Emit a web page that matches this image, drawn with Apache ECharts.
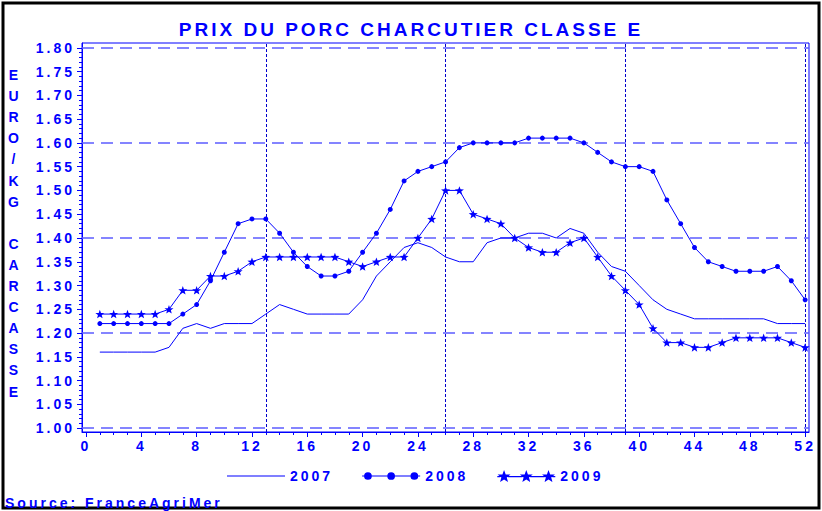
<!DOCTYPE html>
<html>
<head>
<meta charset="utf-8">
<script src="https://cdn.jsdelivr.net/npm/echarts@6/dist/echarts.min.js"></script>
<style>
  html, body { margin: 0; padding: 0; background: #fff; }
  #chart { width: 822px; height: 511px; }
  /* the SAS original spreads every letter out */
  #chart text { letter-spacing: 3px; }
</style>
</head>
<body>
<div id="chart"></div>
<script>
// semaines
const weeks = [1, 2, 3, 4, 5, 6, 7, 8, 9, 10, 11, 12, 13, 14, 15, 16, 17, 18, 19, 20, 21, 22, 23, 24, 25, 26,
  27, 28, 29, 30, 31, 32, 33, 34, 35, 36, 37, 38, 39, 40, 41, 42, 43, 44, 45, 46, 47, 48, 49, 50, 51, 52]

// euro / kg carcasse
const prix2007 = [1.16, 1.16, 1.16, 1.16, 1.16, 1.17, 1.21, 1.22, 1.21, 1.22, 1.22, 1.22, 1.24, 1.26, 1.25, 1.24, 1.24, 1.24, 1.24, 1.27, 1.32, 1.35, 1.38, 1.39, 1.38, 1.36,
  1.35, 1.35, 1.39, 1.40, 1.40, 1.41, 1.41, 1.40, 1.42, 1.41, 1.37, 1.34, 1.33, 1.30, 1.27, 1.25, 1.24, 1.23, 1.23, 1.23, 1.23, 1.23, 1.23, 1.22, 1.22, 1.22]
const prix2008 = [1.22, 1.22, 1.22, 1.22, 1.22, 1.22, 1.24, 1.26, 1.31, 1.37, 1.43, 1.44, 1.44, 1.41, 1.37, 1.34, 1.32, 1.32, 1.33, 1.37, 1.41, 1.46, 1.52, 1.54, 1.55, 1.56,
  1.59, 1.60, 1.60, 1.60, 1.60, 1.61, 1.61, 1.61, 1.61, 1.60, 1.58, 1.56, 1.55, 1.55, 1.54, 1.48, 1.43, 1.38, 1.35, 1.34, 1.33, 1.33, 1.33, 1.34, 1.31, 1.27]
const prix2009 = [1.24, 1.24, 1.24, 1.24, 1.24, 1.25, 1.29, 1.29, 1.32, 1.32, 1.33, 1.35, 1.36, 1.36, 1.36, 1.36, 1.36, 1.36, 1.35, 1.34, 1.35, 1.36, 1.36, 1.40, 1.44, 1.50,
  1.50, 1.45, 1.44, 1.43, 1.40, 1.38, 1.37, 1.37, 1.39, 1.40, 1.36, 1.32, 1.29, 1.26, 1.21, 1.18, 1.18, 1.17, 1.17, 1.18, 1.19, 1.19, 1.19, 1.19, 1.18, 1.17]

const xTicks = [0, 4, 8, 12, 16, 20, 24, 28, 32, 36, 40, 44, 48, 52]
const yTicks = [1.00, 1.05, 1.10, 1.15, 1.20, 1.25, 1.30, 1.35, 1.40, 1.45, 1.50, 1.55, 1.60, 1.65, 1.70, 1.75, 1.80]
const hRefs = [1.00, 1.20, 1.40, 1.60, 1.80]
const vRefs = [13, 26, 39, 52]

const titleText = 'PRIX DU PORC CHARCUTIER CLASSE E'
const yName = 'EURO/KG CARCASSE'
const sourceText = 'Source: FranceAgriMer'

const BLUE = '#0000ff'
const FONT = "'Liberation Sans', Arial, sans-serif"
const X_MIN = -0.29, X_MAX = 52.28
const Y_MIN = 0.992, Y_MAX = 1.81

// small ticks: every week, every cent
let xMinor = [0].concat(weeks)
let yMinor = []
for (let c = 100; c <= 180; c++) yMinor.push(c / 100)

function starPath (cx, cy, R, r) {
  let d = ''
  for (let k = 0; k < 10; k++) {
    let a = -Math.PI / 2 + k * Math.PI / 5
    let rad = k % 2 ? r : R
    d += (k ? 'L' : 'M') + (cx + rad * Math.cos(a)).toFixed(2) + ',' + (cy + rad * Math.sin(a)).toFixed(2)
  }
  return d + 'Z'
}
function seg (x1, x2) {
  return 'M' + x1 + ',6.4L' + x2 + ',6.4L' + x2 + ',7.6L' + x1 + ',7.6Z'
}
function circle (cx) {
  return 'M' + (cx - 4) + ',7a4,4 0 1,1 8,0a4,4 0 1,1 -8,0Z'
}
const lineIcon = 'path://' + seg(0, 60)
const dotIcon = 'path://' + seg(0, 3) + seg(9, 27) + seg(33, 51) + seg(57, 60) + circle(6) + circle(30) + circle(54)
const starIcon = 'path://' + seg(0, 3) + seg(11, 26) + seg(34, 49) + seg(57, 60) +
  starPath(7, 7, 7, 2.9) + starPath(30, 7, 7, 2.9) + starPath(53, 7, 7, 2.9)

const toPoints = vals => weeks.map((w, i) => [w, vals[i]])

const chart = echarts.init(document.getElementById('chart'), null, { renderer: 'svg' })

const labelStyle = { color: BLUE, fontWeight: 'bold', fontFamily: FONT }

chart.setOption({
  backgroundColor: '#fff',
  animation: false,
  title: {
    text: titleText,
    left: 'center',
    top: 15,
    textStyle: { color: BLUE, fontSize: 19, fontWeight: 'bold', fontFamily: FONT }
  },
  grid: {
    left: 82, right: 13, top: 43, bottom: 79,
    show: true,
    borderColor: BLUE,
    borderWidth: 1
  },
  legend: {
    left: 222,
    top: 464,
    itemWidth: 58,
    itemHeight: 14,
    itemGap: 41,
    selectedMode: false,
    itemStyle: { borderWidth: 0 },
    textStyle: Object.assign({ fontSize: 14 }, labelStyle),
    data: [
      { name: '2007', icon: lineIcon },
      { name: '2008', icon: dotIcon },
      { name: '2009', icon: starIcon }
    ]
  },
  xAxis: [
    {
      type: 'value', min: X_MIN, max: X_MAX, position: 'bottom',
      axisLine: { show: true, onZero: false, lineStyle: { color: BLUE, width: 1 } },
      axisTick: { show: true, customValues: xTicks, length: 5, lineStyle: { color: BLUE } },
      axisLabel: Object.assign({ customValues: xTicks, fontSize: 14, margin: 7 }, labelStyle),
      splitLine: { show: false }
    },
    {
      type: 'value', min: X_MIN, max: X_MAX, position: 'bottom',
      axisLine: { show: false, onZero: false },
      axisTick: { show: true, customValues: xMinor, length: 3, lineStyle: { color: BLUE } },
      axisLabel: { show: false },
      splitLine: { show: false }
    }
  ],
  yAxis: [
    {
      type: 'value', min: Y_MIN, max: Y_MAX, position: 'left',
      axisLine: { show: true, onZero: false, lineStyle: { color: BLUE, width: 1 } },
      axisTick: { show: true, customValues: yTicks, length: 5, lineStyle: { color: BLUE } },
      axisLabel: Object.assign({
        customValues: yTicks, fontSize: 14, margin: 7,
        formatter: v => v.toFixed(2)
      }, labelStyle),
      splitLine: { show: false }
    },
    {
      type: 'value', min: Y_MIN, max: Y_MAX, position: 'left',
      axisLine: { show: false, onZero: false },
      axisTick: { show: true, customValues: yMinor, length: 3, lineStyle: { color: BLUE } },
      axisLabel: { show: false },
      splitLine: { show: false }
    }
  ],
  graphic: [
    {
      type: 'rect',
      shape: { x: 3, y: 3, width: 816, height: 505 },
      style: { fill: 'none', stroke: '#000', lineWidth: 3 },
      silent: true
    },
    {
      type: 'text',
      x: 15, y: 64.5,
      style: {
        text: yName.split('').join('\n'),
        fill: BLUE,
        font: 'bold 14px ' + FONT,
        textAlign: 'center',
        textVerticalAlign: 'top',
        lineHeight: 21.1
      }
    },
    {
      type: 'text',
      x: 5, y: 503,
      style: {
        text: sourceText,
        fill: BLUE,
        font: 'bold 14px ' + FONT,
        textAlign: 'left',
        textVerticalAlign: 'middle'
      }
    }
  ],
  series: [
    {
      name: '2007',
      type: 'line',
      data: toPoints(prix2007),
      symbol: 'none',
      color: BLUE,
      lineStyle: { color: BLUE, width: 1 },
      z: 3,
      markLine: {
        silent: true,
        z: 1,
        symbol: ['none', 'none'],
        label: { show: false },
        data: hRefs.map(v => ({
          yAxis: v,
          lineStyle: { color: '#5c5cff', width: 1.5, type: [12, 7] }
        })).concat(vRefs.map(v => ({
          xAxis: v,
          lineStyle: { color: '#0000cc', width: 1, type: [3, 2] }
        })))
      }
    },
    {
      name: '2008',
      type: 'line',
      data: toPoints(prix2008),
      symbol: 'circle',
      symbolSize: 5,
      color: BLUE,
      lineStyle: { color: BLUE, width: 1 },
      itemStyle: { color: BLUE },
      z: 3
    },
    {
      name: '2009',
      type: 'line',
      data: toPoints(prix2009),
      symbol: 'path://' + starPath(7, 7, 7, 2.9),
      symbolSize: 9,
      symbolKeepAspect: true,
      color: BLUE,
      lineStyle: { color: BLUE, width: 1 },
      itemStyle: { color: BLUE },
      z: 3
    }
  ]
})
</script>
</body>
</html>
